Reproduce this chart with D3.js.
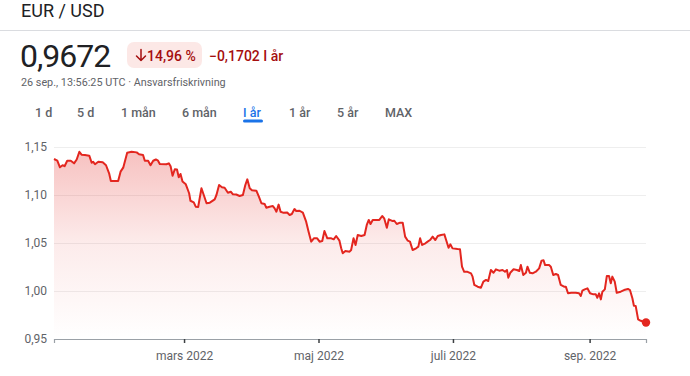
<!DOCTYPE html>
<html>
<head>
<meta charset="utf-8">
<script src="https://cdn.jsdelivr.net/npm/d3@7"></script>
<style>
  body { margin: 0; background: #fff; font-family: Roboto, "Noto Sans", sans-serif; }
  svg text { font-family: Roboto, "Noto Sans", sans-serif; }
</style>
</head>
<body>
<div id="chart"></div>
<script>
// days since 1 Jan 2022
const days = [0, 1.5, 2.7, 3.9, 4.8, 6.0, 7.6, 9.1, 10.3, 11.5, 12.5, 14.0, 16.0, 17.1, 17.8, 18.6, 20.1, 22.1, 23.6, 25.0,
  25.8, 29.1, 30.2, 31.4, 33.2, 35.2, 37.5, 38.6, 40.4, 41.2, 42.7, 43.8, 45.0, 46.2, 47.2, 48.0, 51.0, 52.1, 52.9, 53.8,
  54.8, 55.8, 56.6, 57.4, 58.3, 59.8, 61.3, 61.9, 63.4, 64.3, 65.4, 66.9, 68.1, 69.2, 70.7, 72.9, 73.7, 74.9, 76.2, 77.4,
  78.9, 80.2, 81.2, 82.7, 84.2, 85.7, 86.8, 87.7, 88.8, 89.8, 91.8, 93.0, 94.1, 95.6, 96.3, 97.8, 99.3, 100.1, 100.9, 101.9,
  102.8, 103.9, 105.8, 106.9, 107.9, 109.1, 109.9, 111.4, 112.9, 114.4, 115.5, 116.7, 117.9, 119.4, 120.5, 121.7, 122.7, 124.0, 125.8, 126.9,
  128.0, 129.5, 130.3, 131.0, 132.2, 134.1, 134.8, 135.9, 136.8, 137.8, 139.4, 140.9, 141.9, 142.8, 143.6, 144.6, 146.4, 147.6, 148.9, 149.8,
  151.0, 151.9, 153.4, 154.4, 155.5, 157.0, 158.2, 159.3, 160.5, 161.5, 162.7, 164.3, 165.3, 166.1, 167.0, 168.5, 169.5, 170.6, 171.8, 173.0,
  174.1, 175.6, 177.1, 177.9, 179.0, 179.8, 180.8, 183.1, 184.2, 185.1, 186.1, 187.6, 189.2, 189.9, 190.7, 192.2, 193.7, 194.8, 196.0, 197.0,
  198.2, 199.4, 200.5, 202.0, 203.5, 204.6, 205.5, 206.1, 207.0, 208.5, 210.0, 211.1, 211.8, 212.9, 214.1, 214.8, 215.9, 217.1, 218.6, 220.1,
  221.2, 222.1, 222.8, 224.6, 225.4, 226.5, 227.7, 228.7, 229.9, 231.4, 232.2, 233.2, 234.7, 236.7, 238.2, 239.0, 239.7, 240.8, 242.0, 243.2,
  244.7, 245.8, 246.5, 247.3, 248.1, 248.8, 249.9, 250.8, 251.8, 252.6, 253.3, 254.4, 255.3, 257.1, 258.6, 260.4, 261.3, 262.4, 263.1, 263.9,
  265.0, 266.2, 268.58];

const rates = [1.1375, 1.1357, 1.1289, 1.1310, 1.1300, 1.1357, 1.1357, 1.1330, 1.1370, 1.1450, 1.1420, 1.1417, 1.1410, 1.1336, 1.1345, 1.1320, 1.1347, 1.1340, 1.1310, 1.1226,
  1.1146, 1.1146, 1.1243, 1.1285, 1.1440, 1.1450, 1.1444, 1.1424, 1.1417, 1.1357, 1.1357, 1.1310, 1.1357, 1.1370, 1.1357, 1.1323, 1.1320, 1.1330, 1.1300, 1.1200,
  1.1268, 1.1265, 1.1184, 1.1219, 1.1140, 1.1111, 1.1018, 1.0940, 1.0924, 1.0878, 1.0875, 1.1070, 1.0990, 1.0914, 1.0920, 1.0955, 1.1000, 1.1104, 1.1080, 1.1076,
  1.1024, 1.1034, 1.1007, 1.1005, 1.0990, 1.1000, 1.1104, 1.1163, 1.1070, 1.1050, 1.1045, 1.0980, 1.0914, 1.0906, 1.0868, 1.0878, 1.0885, 1.0861, 1.0826, 1.0900,
  1.0826, 1.0816, 1.0818, 1.0792, 1.0802, 1.0854, 1.0833, 1.0836, 1.0816, 1.0722, 1.0618, 1.0514, 1.0549, 1.0549, 1.0514, 1.0521, 1.0625, 1.0549, 1.0549, 1.0538,
  1.0573, 1.0524, 1.0445, 1.0393, 1.0417, 1.0410, 1.0427, 1.0549, 1.0480, 1.0583, 1.0573, 1.0583, 1.0688, 1.0740, 1.0698, 1.0740, 1.0740, 1.0740, 1.0781, 1.0757,
  1.0659, 1.0747, 1.0730, 1.0732, 1.0698, 1.0712, 1.0712, 1.0566, 1.0524, 1.0514, 1.0427, 1.0445, 1.0462, 1.0549, 1.0480, 1.0497, 1.0514, 1.0531, 1.0566, 1.0531,
  1.0573, 1.0583, 1.0590, 1.0531, 1.0450, 1.0486, 1.0444, 1.0437, 1.0435, 1.0253, 1.0200, 1.0200, 1.0183, 1.0149, 1.0063, 1.0045, 1.0034, 1.0097, 1.0115, 1.0104,
  1.0219, 1.0190, 1.0226, 1.0212, 1.0219, 1.0201, 1.0219, 1.0139, 1.0190, 1.0226, 1.0219, 1.0208, 1.0271, 1.0167, 1.0190, 1.0253, 1.0190, 1.0184, 1.0201, 1.0236,
  1.0316, 1.0320, 1.0270, 1.0270, 1.0253, 1.0167, 1.0177, 1.0167, 1.0063, 1.0045, 1.0045, 0.9976, 0.9982, 0.9982, 0.9976, 0.9948, 1.0003, 1.0017, 1.0028, 0.9976,
  0.9965, 0.9965, 0.9930, 0.9976, 0.9913, 0.9993, 1.0017, 1.0156, 1.0156, 1.0080, 1.0150, 1.0097, 0.9982, 0.9993, 1.0010, 1.0021, 1.0010, 0.9924, 0.9847, 0.9845,
  0.9705, 0.9690, 0.9672];

const yTicks = [0.95, 1.00, 1.05, 1.10, 1.15];
const xTickDates = ["2022-03-01", "2022-05-01", "2022-07-01", "2022-09-01"];
const xTickLabels = ["mars 2022", "maj 2022", "juli 2022", "sep. 2022"];
const tabs = ["1 d", "5 d", "1 mån", "6 mån", "I år", "1 år", "5 år", "MAX"];
const tabX = [35, 77, 121, 182, 243, 289, 337, 385];

const width = 690, height = 376;
const start = new Date(2022, 0, 1);
const data = days.map((d, i) => ({ date: new Date(start.getTime() + d * 864e5), value: rates[i] }));

const svg = d3.select("#chart").append("svg")
  .attr("width", width)
  .attr("height", height);

// header
svg.append("text").attr("x", 21).attr("y", 17)
  .attr("font-size", 18).attr("fill", "#202124").text("EUR / USD");
svg.append("line").attr("x1", 0).attr("x2", width).attr("y1", 30.5).attr("y2", 30.5)
  .attr("stroke", "#dadce0");

svg.append("text").attr("x", 20).attr("y", 66.5)
  .attr("font-size", 32).attr("letter-spacing", -1).attr("fill", "#202124").text("0,9672");

svg.append("rect").attr("x", 127).attr("y", 42).attr("width", 75).attr("height", 26)
  .attr("rx", 7).attr("fill", "#fce8e6");
// down arrow in the badge
svg.append("path")
  .attr("d", "M141,49.5 V60.5 M136.5,56 L141,60.5 L145.5,56")
  .attr("fill", "none").attr("stroke", "#a50e0e").attr("stroke-width", 1.5)
  .attr("stroke-linecap", "round").attr("stroke-linejoin", "round");
svg.append("text").attr("x", 147).attr("y", 60.5)
  .attr("font-size", 14).attr("font-weight", 500).attr("fill", "#a50e0e").text("14,96 %");
svg.append("text").attr("x", 209).attr("y", 60.5)
  .attr("font-size", 14).attr("font-weight", 500).attr("fill", "#a50e0e").text("−0,1702 I år");

svg.append("text").attr("x", 21).attr("y", 86)
  .attr("font-size", 10.8).attr("fill", "#5f6368").text("26 sep., 13:56:25 UTC · Ansvarsfriskrivning");

// range tabs
svg.selectAll(".tab").data(tabs).enter().append("text")
  .attr("class", "tab")
  .attr("x", (d, i) => tabX[i]).attr("y", 117)
  .attr("font-size", 12.5)
  .attr("font-weight", 500)
  .attr("fill", d => d === "I år" ? "#1a73e8" : "#5f6368")
  .text(d => d);
svg.append("rect").attr("x", 243).attr("y", 119.5).attr("width", 20).attr("height", 3)
  .attr("rx", 1.5).attr("fill", "#1a73e8");

// chart
const margin = { left: 54, right: 44, top: 147, bottom: 37 };
const x = d3.scaleTime()
  .domain([start, data[data.length - 1].date])
  .range([margin.left, width - margin.right]);
const y = d3.scaleLinear()
  .domain([0.95, 1.15])
  .range([height - margin.bottom, margin.top]);

const defs = svg.append("defs");
const grad = defs.append("linearGradient").attr("id", "fillGrad")
  .attr("gradientUnits", "userSpaceOnUse")
  .attr("x1", 0).attr("x2", 0).attr("y1", y(1.15)).attr("y2", y(0.95));
grad.append("stop").attr("offset", "0%").attr("stop-color", "#e53935").attr("stop-opacity", 0.32);
grad.append("stop").attr("offset", "50%").attr("stop-color", "#e53935").attr("stop-opacity", 0.1);
grad.append("stop").attr("offset", "100%").attr("stop-color", "#e53935").attr("stop-opacity", 0);

// gridlines
svg.append("g").selectAll("line").data(yTicks.filter(t => t > 0.95)).enter().append("line")
  .attr("x1", margin.left).attr("x2", width - margin.right)
  .attr("y1", d => Math.round(y(d)) + 0.5).attr("y2", d => Math.round(y(d)) + 0.5)
  .attr("stroke", "#eeeeee");

svg.append("g").selectAll("text").data(yTicks).enter().append("text")
  .attr("x", 47).attr("y", d => y(d) + 4)
  .attr("text-anchor", "end").attr("font-size", 12).attr("fill", "#5f6368")
  .text(d => d3.format(".2f")(d).replace(".", ","));

const area = d3.area()
  .x(d => x(d.date))
  .y0(y(0.95))
  .y1(d => y(d.value));
svg.append("path").datum(data).attr("d", area).attr("fill", "url(#fillGrad)");

const line = d3.line()
  .x(d => x(d.date))
  .y(d => y(d.value));
svg.append("path").datum(data).attr("d", line)
  .attr("fill", "none").attr("stroke", "#e3261f").attr("stroke-width", 2)
  .attr("stroke-linejoin", "round");

// x axis
const xAxis = d3.axisBottom(x)
  .tickValues(xTickDates.map(d => d3.timeParse("%Y-%m-%d")(d)))
  .tickSize(4)
  .tickFormat((d, i) => xTickLabels[i]);
const gx = svg.append("g")
  .attr("transform", `translate(0, ${y(0.95)})`)
  .call(xAxis);
gx.select(".domain").attr("stroke", "#9aa0a6").attr("stroke-width", 1.2);
gx.selectAll(".tick line").attr("stroke", "#3c4043").attr("stroke-width", 1.5);
gx.selectAll(".tick text").attr("font-size", 12).attr("fill", "#5f6368")
  .attr("font-family", "Roboto").attr("dy", "1.15em");

// last point
const last = data[data.length - 1];
svg.append("circle").attr("cx", x(last.date)).attr("cy", y(last.value))
  .attr("r", 4.2).attr("fill", "#e3261f");
</script>
</body>
</html>
